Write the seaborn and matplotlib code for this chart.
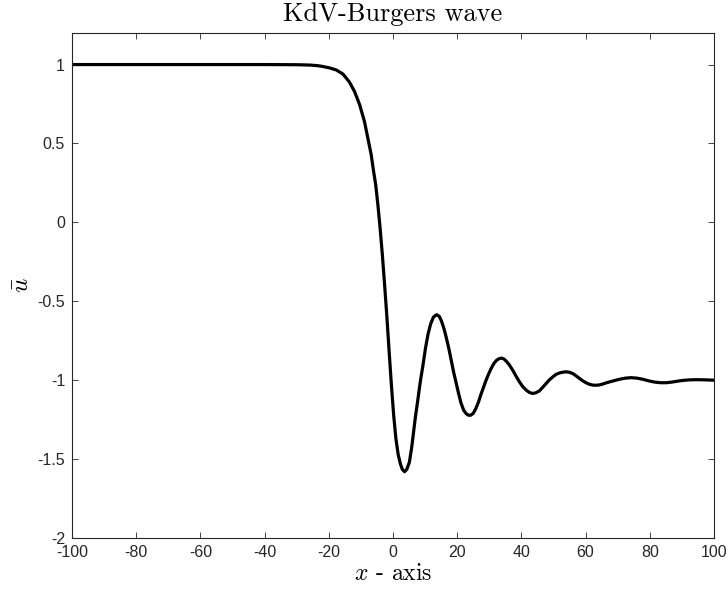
import matplotlib
matplotlib.use("Agg")
import matplotlib.pyplot as plt
import seaborn as sns
import pandas as pd

# ---- data ----
x_vals = [-100, -80, -60, -40, -30, -26, -23.5, -21.9, -19.8, -17.7, -15.6, -13.6,
          -12.0, -10.4, -8.9, -7.85, -6.8, -6.1, -5.4, -4.7, -4.0, -3.3, -2.6, -1.9,
          -1.2, -0.5, 0.2, 0.9, 1.6, 2.3, 2.9, 3.6, 4.3, 5.1, 5.8, 6.4, 7.0, 7.7, 8.5,
          9.3, 10.1, 10.9, 11.7, 12.6, 13.6, 14.4, 15.1, 15.9, 16.6, 17.4, 18.1, 18.9,
          19.7, 20.5, 21.2, 22.0, 22.8, 23.5, 24.2, 25.0, 25.8, 26.6, 27.4, 28.2, 29.0,
          29.8, 30.6, 31.4, 32.2, 33.0, 33.8, 34.6, 35.4, 36.3, 37.3, 38.3, 39.4, 40.4,
          41.5, 42.5, 43.5, 44.5, 45.6, 46.6, 47.7, 48.7, 49.8, 50.8, 51.9, 53.0, 54.0,
          55.0, 56.0, 57.0, 58.1, 59.1, 60.2, 61.2, 62.2, 63.3, 64.3, 65.4, 66.4, 68.5,
          70.6, 72.4, 74.2, 76.0, 77.8, 79.6, 81.5, 83.3, 85.1, 86.9, 88.7, 90.5, 92.4,
          94.0, 95.5, 97.5, 100]
u_vals = [1.0, 1.0, 1.0, 1.0, 0.999, 0.997, 0.993, 0.988, 0.979, 0.966, 0.940, 0.890,
          0.830, 0.746, 0.640, 0.535, 0.43, 0.33, 0.24, 0.11, -0.04, -0.21, -0.40, -0.60,
          -0.82, -1.03, -1.22, -1.37, -1.47, -1.53, -1.565, -1.58, -1.565, -1.52, -1.43,
          -1.33, -1.23, -1.13, -1.01, -0.91, -0.80, -0.71, -0.645, -0.600, -0.585, -0.595,
          -0.625, -0.675, -0.73, -0.80, -0.87, -0.95, -1.02, -1.09, -1.145, -1.19, -1.212,
          -1.222, -1.222, -1.21, -1.18, -1.14, -1.09, -1.045, -1.00, -0.96, -0.925, -0.895,
          -0.875, -0.864, -0.860, -0.866, -0.882, -0.905, -0.937, -0.973, -1.011, -1.04,
          -1.063, -1.078, -1.084, -1.080, -1.068, -1.046, -1.021, -0.998, -0.979, -0.963,
          -0.954, -0.949, -0.947, -0.950, -0.958, -0.972, -0.989, -1.004, -1.017, -1.026,
          -1.031, -1.032, -1.030, -1.024, -1.017, -1.005, -0.994, -0.987, -0.984, -0.987,
          -0.994, -1.004, -1.012, -1.016, -1.016, -1.012, -1.006, -1.001, -0.998, -0.997,
          -0.997, -0.998, -1.0]

x_ticks = [-100, -80, -60, -40, -20, 0, 20, 40, 60, 80, 100]
x_tick_labels = ["-100", "-80", "-60", "-40", "-20", "0", "20", "40", "60", "80", "100"]
y_ticks = [-2, -1.5, -1, -0.5, 0, 0.5, 1]
y_tick_labels = ["-2", "-1.5", "-1", "-0.5", "0", "0.5", "1"]

title_text = "KdV-Burgers wave"
xlabel_text = r"$x$ - axis"
ylabel_text = r"$\bar{u}$"

# ---- style ----
sns.set_style("white")
plt.rcParams["font.family"] = ["Liberation Sans", "DejaVu Sans"]
plt.rcParams["mathtext.fontset"] = "cm"
plt.rcParams["axes.unicode_minus"] = False

df = pd.DataFrame({"x": x_vals, "u": u_vals})

fig = plt.figure(figsize=(7.28, 5.96), dpi=100)
ax = fig.add_axes([72 / 728, 1 - 538 / 596, (714 - 72) / 728, (538 - 33) / 596])

sns.lineplot(data=df, x="x", y="u", color="black", linewidth=2.3, sort=False,
             estimator=None, ax=ax)

ax.set_xlim(-100, 100)
ax.set_ylim(-2, 1.2)
ax.set_xticks(x_ticks)
ax.set_xticklabels(x_tick_labels)
ax.set_yticks(y_ticks)
ax.set_yticklabels(y_tick_labels)

spine_col = "#262626"
for s in ax.spines.values():
    s.set_visible(True)
    s.set_color(spine_col)
    s.set_linewidth(0.8)

ax.tick_params(axis="both", which="major", direction="in", length=4.5, width=0.6,
               color=spine_col, labelcolor="#262626", labelsize=11.5,
               top=True, right=True, bottom=True, left=True, pad=5)

ax.set_title(title_text, fontfamily="cmr10", fontsize=19, color="black", pad=9)
ax.set_xlabel(xlabel_text, fontfamily="cmr10", fontsize=17, color="black", labelpad=2)
ax.set_ylabel(ylabel_text, fontsize=18, color="black", labelpad=3)

fig.savefig("out.png", dpi=100)
